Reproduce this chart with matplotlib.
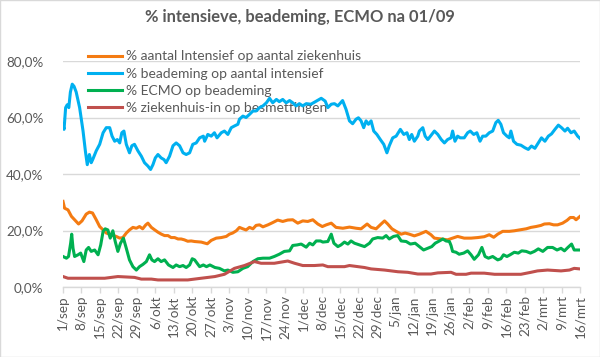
import matplotlib
matplotlib.use("Agg")
import matplotlib.pyplot as plt
from matplotlib.patches import Rectangle
from matplotlib.ticker import FuncFormatter

title = "% intensieve, beademing, ECMO na 01/09"
series_names = ["% aantal Intensief op aantal ziekenhuis",
                "% beademing op aantal intensief",
                "% ECMO op beademing",
                "% ziekenhuis-in op besmettingen"]
tick_days = list(range(0, 197, 7))
tick_labels = ['1/sep', '8/sep', '15/sep', '22/sep', '29/sep', '6/okt', '13/okt', '20/okt',
               '27/okt', '3/nov', '10/nov', '17/nov', '24/nov', '1/dec', '8/dec', '15/dec',
               '22/dec', '29/dec', '5/jan', '12/jan', '19/jan', '26/jan', '2/feb', '9/feb',
               '16/feb', '23/feb', '2/mrt', '9/mrt', '16/mrt']

# days since 1 sep
orange_days = [0, 0.6, 1.9, 3.2, 4.4, 5.9, 7.2, 8.8, 10, 11.2, 12.6, 13.9, 15.2, 16.4, 17.7, 19, 20.2,
               21.5, 22.7, 24, 25.2, 26.5, 27.8, 29, 30.2, 31.4, 32.2, 33.5, 34.8, 36, 37.3, 38.5,
               39.8, 41, 42.3, 43.6, 44.8, 46, 47.3, 48.6, 49.9, 52.4, 54.7, 56.2, 58.1, 60, 61.9,
               63.1, 64.3, 65.7, 66.9, 68.2, 69.4, 70.7, 72, 73.2, 74.5, 75.8, 77.7, 79.5, 81.4,
               83.3, 85.2, 87.1, 89, 90.9, 92.8, 94.7, 96.6, 98.3, 99.8, 101.7, 103.5, 106.1,
               108.6, 111.1, 113, 115.3, 116.8, 118.7, 120.6, 121.9, 123.1, 124.7, 126.3, 128.2,
               129.7, 131.3, 133.2, 135.1, 137.6, 139.5, 140.8, 143.4, 145.8, 147.7, 149.6, 152.1,
               154.7, 157.2, 159.7, 161.6, 163.3, 164.8, 166.7, 169.2, 171.1, 173, 175.6, 177.4,
               179.3, 181.2, 182.5, 184.4, 186, 187.5, 189.4, 191.1, 192.3, 193.6, 194.5, 196]
orange_vals = [30.3, 27.9, 27.3, 25, 23.8, 22.3, 23.4, 25.8, 26.5, 26.2, 23.8, 21.4, 20.2, 19.1, 18.7,
               18.2, 17.9, 17.3, 17.5, 19.1, 20.2, 21.1, 20.8, 21.4, 20.6, 22, 22.6, 21.1, 20.2,
               19.4, 18.7, 18.2, 18.2, 17.5, 17.5, 17, 17, 16.7, 16.2, 16.3, 16.1, 15.9, 15.3, 16.5,
               17.3, 17.5, 17.9, 18.7, 19.1, 19.9, 21.1, 20.6, 20.2, 21.1, 20.6, 21.8, 22, 21.3, 22,
               22.8, 23.7, 23.2, 23.7, 23.8, 22.6, 23.4, 23.2, 23.8, 22.3, 21.4, 22, 22.6, 21.1,
               20.8, 21.2, 20.8, 20.6, 22.3, 21.1, 20.6, 22.3, 23.4, 22.3, 20.6, 19.7, 18.7, 19.1,
               18.7, 18.1, 18.7, 19.7, 18.5, 17.3, 17, 16.7, 17.3, 17.9, 17.3, 17.3, 17.5, 17.8,
               18.5, 17.6, 18.7, 19.7, 19.7, 19.9, 20.2, 20.6, 21.1, 21.4, 21.8, 22.3, 22.4, 22, 22,
               22.6, 23.6, 24.6, 24.6, 23.8, 25]

blue_days = [0, 0.4, 1, 1.6, 2.2, 2.8, 3.5, 4.2, 5, 6.3, 7.6, 8.5, 9.2, 10, 10.7, 11.3, 12.6, 13.9,
             15.2, 16.4, 17.7, 18.6, 19.6, 20.6, 21.5, 22.3, 23.1, 24, 25.2, 26.1, 27.1, 28.4, 29.7,
             30.9, 32.2, 33.2, 34.1, 35, 36, 37.2, 38.3, 39.1, 40.4, 41.7, 42.9, 44.2, 45.5, 46.7,
             48, 49.2, 50.5, 51.8, 53.2, 53.7, 54.9, 56.2, 57.4, 58.4, 60, 61.2, 62.5, 63.8, 65,
             66.3, 66.9, 68.2, 69.4, 70.7, 72, 73.2, 74.5, 75.8, 77.1, 78.3, 79.5, 80.9, 82, 83.3,
             84.6, 85.9, 87.1, 88.4, 89.6, 90.9, 92.2, 94, 96, 97.9, 99.4, 100.4, 101.7, 102.9,
             104.2, 106, 107.3, 108.6, 109.8, 111.1, 112, 113, 114, 114.9, 115.8, 116.8, 117.8, 119,
             120.3, 121.6, 122.8, 123.7, 125, 126.3, 127.9, 129.2, 130.4, 131.3, 132.2, 133.2,
             134.5, 135.1, 136.4, 137.3, 138.3, 139.3, 140.8, 142.1, 143.4, 144.6, 145.8, 147.1,
             147.7, 148.6, 149.6, 150.6, 152.1, 153.4, 154.4, 155.7, 156.9, 158.1, 159.1, 160.3,
             161.6, 162.9, 164.1, 165, 166, 167, 168.3, 169.2, 169.8, 170.8, 172.1, 173.6, 175.1,
             176.4, 177.6, 178.9, 180.2, 181.4, 182.7, 184, 185.2, 186.5, 187.8, 189, 190.3, 191.3,
             192.6, 193.8, 195.1, 196]
blue_vals = [57.5, 55.8, 63.5, 64.5, 63.5, 69, 71.8, 71, 69, 63.5, 55.2, 48, 43.3, 46.9, 44, 45.2,
             48.2, 50.5, 54.6, 56.4, 56.4, 53.4, 51.6, 52.2, 51, 54.6, 55.2, 50.5, 47.5, 50, 50.5,
             48.2, 46.3, 44, 42.8, 41.6, 43.3, 45.7, 46.9, 45.7, 45.1, 44, 46.3, 50, 51, 50, 47.5,
             46.9, 47.5, 50.5, 51, 52.8, 53.4, 51.6, 54, 53.4, 54.6, 52.8, 54.6, 55.2, 54, 56.4, 57,
             57.6, 59.4, 60.5, 60, 61.1, 62.3, 62.3, 63.5, 64.1, 65.2, 66.8, 65.2, 66.4, 65.6, 66.4,
             65.2, 66, 65.2, 64.1, 64.9, 64.1, 64.9, 64.7, 65.8, 66.8, 65.8, 63.5, 64.7, 64.9, 64.1,
             66, 62.9, 58.8, 57.8, 59.4, 59.9, 58.8, 56.4, 58.8, 57.6, 58.8, 55.2, 54, 52.2, 50.5,
             47.5, 50, 52.8, 53.4, 55.8, 54, 54.6, 52.2, 54, 51.6, 53.4, 55.2, 56.4, 53.4, 52.2,
             53.4, 55.2, 54, 52.2, 51, 52.2, 52.8, 55.2, 51.6, 53.4, 52.8, 52.8, 54.6, 55.2, 54,
             54.6, 51.6, 53.4, 53.4, 54.6, 55.2, 58.2, 59, 57.6, 54.6, 53.4, 52.8, 55.2, 51.6, 50.5,
             50.2, 49.3, 48.7, 49.9, 49.1, 51, 52.8, 51.6, 53.4, 54.2, 55.8, 57.3, 56.4, 55.2, 56.2,
             54.6, 55.2, 53.4, 52.6]

green_days = [0, 1.3, 2.1, 2.9, 3.3, 3.8, 4.4, 5.7, 6.7, 7.9, 8.8, 9.7, 10.7, 12, 13.3, 14.3, 15.2,
              16, 17, 17.9, 18.9, 19.8, 20.8, 21.8, 22.9, 24, 25.2, 26.5, 27.8, 29, 30.3, 31.6,
              32.8, 33.7, 34.7, 36, 37.2, 38.5, 40, 41.7, 42.9, 44.2, 45.5, 46.7, 48, 49, 49.9,
              51.8, 53.2, 54.4, 55.7, 57.6, 59.3, 61.2, 62.5, 64.4, 66.3, 68.2, 70, 72, 73.9, 75.8,
              78.3, 80.1, 82, 83.9, 85.9, 87.1, 88.8, 90.3, 92.2, 93.5, 94.7, 96, 97.6, 98.5,
              100.4, 101.7, 102.7, 104.2, 105.4, 106.7, 108, 109.2, 110.5, 112.4, 114.3, 116.2,
              117.4, 119.3, 121.2, 122.5, 123.7, 125.3, 126.9, 128.2, 130.1, 131.7, 133.5, 135.1,
              136.7, 138.3, 139.8, 141.1, 142.7, 144, 145.2, 146.5, 147.1, 147.7, 149, 150.2,
              151.9, 153.4, 154.7, 155.9, 157.5, 158.8, 160, 161.3, 162.9, 164.8, 166, 167, 168.3,
              169.5, 171.1, 172.6, 173.9, 175.6, 177.2, 178.7, 180.2, 181.9, 183.7, 185.6, 187.3,
              188.8, 190.1, 191.4, 192.8, 193.8, 196]
green_vals = [10.8, 10.2, 10.8, 15.5, 18.7, 13.7, 10.8, 11.4, 12, 9, 13.1, 14, 12.6, 13.1, 11.4,
              14.9, 19.7, 20.6, 20.2, 17.3, 19.9, 16.1, 12.6, 15.5, 17.3, 13.7, 9.6, 7.2, 6, 7.2,
              8, 9, 11.4, 9.6, 9, 10, 9, 9.6, 7.8, 6.9, 7.8, 7.2, 7.6, 6.9, 7.8, 10, 9.6, 7.2, 7.8,
              7.2, 7.8, 6.9, 6.6, 5.7, 6, 5.2, 5.4, 6.6, 7.2, 9, 10, 10.2, 10.2, 10.8, 11.6, 12.6,
              12.8, 14.7, 14.9, 15.2, 14.1, 15.5, 14.9, 16.3, 16.3, 15.9, 16.1, 18.7, 15.5, 14.3,
              14.9, 15.9, 15.2, 16.3, 15.5, 14.9, 14.3, 15.5, 17, 17.5, 17.3, 18.2, 17, 17.9, 18.2,
              16.3, 16.1, 15.2, 15.5, 14.3, 13.1, 13.7, 14.3, 15.5, 16.3, 17, 16.3, 16.1, 14.7,
              12.6, 12.3, 11.6, 12, 12.8, 11.4, 9.8, 11.4, 14, 10.8, 10.2, 10.8, 9.6, 10, 11.4,
              10.8, 11.4, 12.3, 12, 12.8, 12.6, 12, 12.6, 13.5, 12.6, 14, 14, 13.1, 13.7, 12.8, 14,
              15.2, 13.1, 13.1]

red_days = [0, 1.9, 5.7, 10.7, 15.8, 20.8, 27.1, 29.7, 33.5, 36, 42.3, 47.3, 52.4, 57.6, 61.2, 65,
            68.8, 72.6, 75.1, 80.1, 85.2, 87.8, 90.9, 95.3, 98.5, 100.4, 106.7, 108.6, 114.3,
            116.8, 121.9, 127, 130.7, 134.5, 139.5, 142.1, 147.1, 149, 152.8, 154.7, 159.7, 163.6,
            173.6, 177.4, 179.9, 183.7, 188.8, 192, 193.8, 196]
red_vals = [3.7, 3.1, 3.1, 3.1, 3.1, 3.7, 3.4, 2.8, 2.8, 2.5, 2.5, 2.5, 3.1, 3.7, 4.5, 6.6, 7.6, 9,
            8.4, 8.4, 9.2, 8.4, 7.6, 7.6, 7.8, 7.2, 7.2, 7.6, 6.9, 6.4, 6.0, 5.4, 5.2, 4.6, 4.6, 5,
            5.2, 4.5, 4.5, 4.9, 4.9, 4.5, 4.5, 5.2, 5.7, 6.0, 5.7, 6, 6.6, 6.4]

colors = ['#F47B12', '#00B0F0', '#00B050', '#C0504D']
grey_text = '#595959'
grid_col = '#D9D9D9'

plt.rcParams['font.family'] = ['Lato', 'DejaVu Sans']

fig = plt.figure(figsize=(6.0, 3.57), dpi=100)
ax = fig.add_axes([63 / 600, 1 - 287 / 357, (580 - 63) / 600, (287 - 61) / 357])

for d, v, c, n in zip([orange_days, blue_days, green_days, red_days],
                      [orange_vals, blue_vals, green_vals, red_vals], colors, series_names):
    ax.plot(d, v, color=c, lw=2.2, label=n, solid_joinstyle='round', zorder=3)

ax.set_xlim(0, 196)
ax.set_ylim(0, 80)
ax.set_yticks([0, 20, 40, 60, 80])
ax.yaxis.set_major_formatter(FuncFormatter(lambda v, p: f"{v:.1f}%".replace('.', ',')))
ax.set_xticks(tick_days)
ax.set_xticklabels(tick_labels, rotation=90)
ax.grid(axis='y', color=grid_col, lw=1.0)
ax.set_axisbelow(True)
for s in ['top', 'right', 'left']:
    ax.spines[s].set_visible(False)
ax.spines['bottom'].set_color(grid_col)
ax.spines['bottom'].set_linewidth(1.0)
ax.tick_params(axis='y', length=0, pad=14, labelsize=9.7, labelcolor=grey_text)
ax.tick_params(axis='x', length=4, width=1, color=grid_col, pad=2, labelsize=9.7,
               labelcolor=grey_text)

leg = ax.legend(loc='upper left', bbox_to_anchor=(88 / 600, 1 - 50.5 / 357),
                bbox_transform=fig.transFigure, frameon=False, fontsize=10,
                handlelength=2.45, handletextpad=0.25, labelspacing=0.37, borderpad=0,
                borderaxespad=0)
for t in leg.get_texts():
    t.set_color(grey_text)
leg.set_zorder(1)

fig.text(0.5, 1 - 17 / 357, title, ha='center', va='center', fontsize=11.9,
         fontweight='bold', color=grey_text)

fig.patches.append(Rectangle((0.0008, 0.0014), 0.9984, 0.9972, transform=fig.transFigure,
                             fill=False, edgecolor=grid_col, lw=1.0))

fig.savefig('out.png', dpi=100)
